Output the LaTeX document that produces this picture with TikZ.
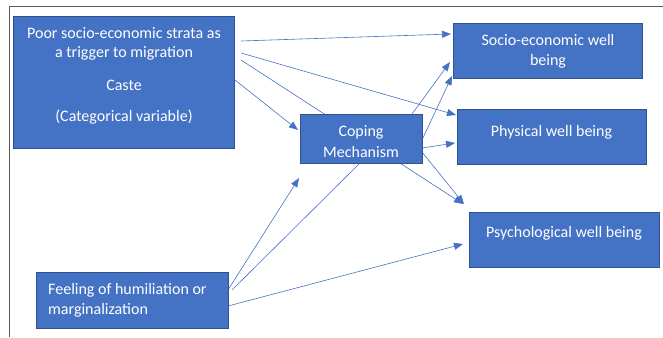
\documentclass[tikz,border=0pt]{standalone}
\usepackage{fontspec}
\setmainfont{Carlito}
\usetikzlibrary{arrows.meta,backgrounds}
\definecolor{boxfill}{HTML}{4472C4}
\definecolor{boxedge}{HTML}{2F528F}
\definecolor{linkblue}{HTML}{4472C4}
\definecolor{framegray}{HTML}{595959}
\begin{document}
\begin{tikzpicture}[x=1pt,y=-1pt,
  box/.style={draw=boxedge, line width=0.8pt, fill=boxfill, anchor=north west,
              inner sep=0pt, outer sep=0pt},
  lbl/.style={text=white, font=\fontsize{16}{20}\selectfont, inner sep=0pt},
  link/.style={draw=linkblue, line width=0.6pt, -{Triangle[length=9pt,width=7pt]}},
  plain/.style={draw=linkblue, line width=0.6pt},
  frameline/.style={draw=framegray, line width=0.8pt}]
\useasboundingbox (0,0) rectangle (663,337);

% open frame: top and left edges
\coordinate (frameTL) at (9.5,6);
\coordinate (frameTR) at (663,6);
\coordinate (frameBL) at (9.5,337);
\draw[frameline] (frameTR) -- (frameTL) -- (frameBL);

% boxes
\node[box, minimum width=221pt, minimum height=132pt] (strata) at (13,16) {};
\node[box, minimum width=122pt, minimum height=49pt]  (cope)   at (300,114) {};
\node[box, minimum width=189pt, minimum height=55pt]  (socio)  at (453,23) {};
\node[box, minimum width=189pt, minimum height=55pt]  (phys)   at (457,109) {};
\node[box, minimum width=190pt, minimum height=55pt]  (psych)  at (469,212) {};
\node[box, minimum width=192pt, minimum height=56pt]  (feel)   at (36,272) {};

% box texts
\node[lbl] (strataA) at (124,33)  {Poor socio-economic strata as};
\node[lbl] (strataB) at (124,53)  {a trigger to migration};
\node[lbl] (strataC) at (124,85)  {Caste};
\node[lbl] (strataD) at (124,117) {(Categorical variable)};
\node[lbl] (copeA)   at (361,132) {Coping};
\node[lbl] (copeB)   at (361,152) {Mechanism};
\node[lbl] (socioA)  at (548,40)  {Socio-economic well};
\node[lbl] (socioB)  at (548,61)  {being};
\node[lbl] (physA)   at (551.5,132) {Physical well being};
\node[lbl] (psychA)  at (564,233) {Psychological well being};
\node[lbl, anchor=west] (feelA) at (48,290) {Feeling of humiliation or};
\node[lbl, anchor=west] (feelB) at (48,310) {marginalization};

% connectors, kept behind the boxes
\begin{scope}[on background layer]
  \draw[link]  ([shift={(7,25)}]strata.north east)  -- ([shift={(-2,11)}]socio.north west);
  \draw[link]  ([shift={(7,37)}]strata.north east)  -- ([shift={(-1,6)}]phys.north west);
  \draw[link]  ([shift={(7,44)}]strata.north east)  -- ([shift={(-6,-8)}]psych.north west);
  \draw[link]  ([shift={(1,64)}]strata.north east)  -- ([shift={(-2,16)}]cope.north west);
  \draw[link]  ([shift={(-10,0)}]cope.north east)   -- ([shift={(-3,-16)}]socio.south west);
  \draw[link]  ([shift={(0,26)}]cope.north east)    -- ([shift={(-1,-2)}]socio.south west);
  \draw[link]  ([shift={(0,34)}]cope.north east)    -- ([shift={(-2,34)}]phys.north west);
  \draw[link]  ([shift={(0,38)}]cope.north east)    -- ([shift={(-5,-8)}]psych.north west);
  \draw[link]  ([shift={(0,18)}]feel.north east)    -- ([shift={(-1,15)}]cope.south west);
  \draw[plain] ([shift={(4,18)}]feel.north east)    -- ([shift={(60,0)}]cope.south west);
  \draw[link]  ([shift={(0,34)}]feel.north east)    -- ([shift={(-6,32)}]psych.north west);
\end{scope}
\end{tikzpicture}
\end{document}
